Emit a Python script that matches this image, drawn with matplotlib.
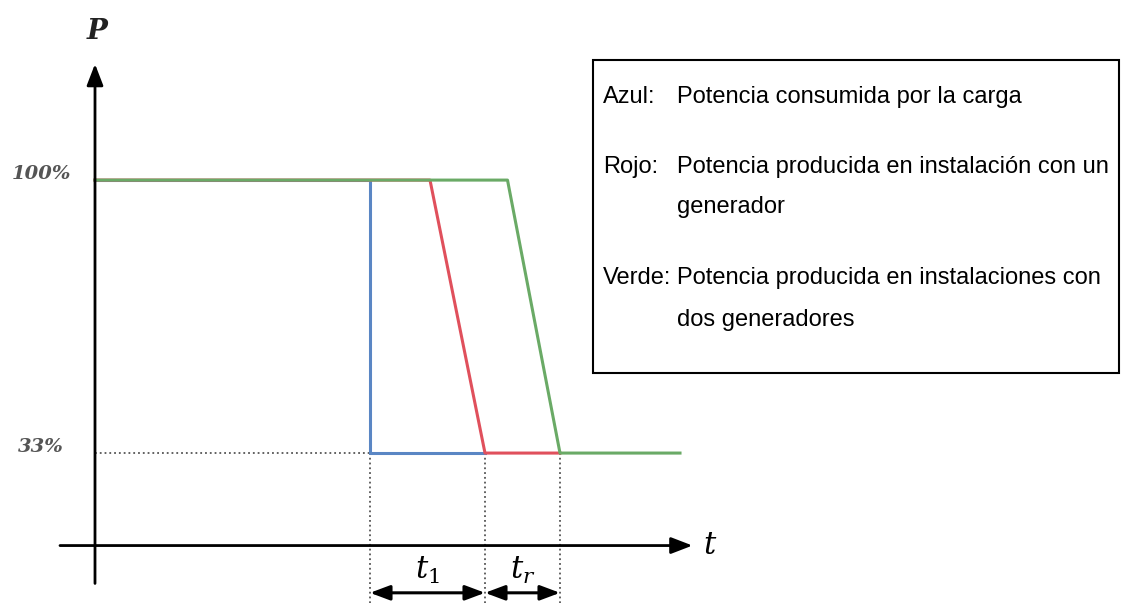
import matplotlib.pyplot as plt
from matplotlib.patches import Rectangle

# potencia (%) frente al tiempo para cada caso
t_azul = [0, 11.0, 11.0, 15.6]
p_azul = [100, 100, 33, 33]
t_rojo = [0, 13.4, 15.6, 18.6]
p_rojo = [100, 100, 33, 33]
t_verde = [0, 16.5, 18.6, 23.4]
p_verde = [100, 100, 33, 33]

niveles = [100, 33]
etiquetas_niveles = ['100%', '33%']
t_marcas = [11.0, 15.6, 18.6]
etiquetas_t = ['$t_1$', '$t_r$']

leyenda = [
    ('Azul:', ['Potencia consumida por la carga']),
    ('Rojo:', ['Potencia producida en instalación con un', 'generador']),
    ('Verde:', ['Potencia producida en instalaciones con', 'dos generadores']),
]

plt.rcParams['mathtext.fontset'] = 'dejavuserif'

fig = plt.figure(figsize=(11.21, 6.03), dpi=100)
ax = fig.add_axes([0, 0, 1, 1])
ax.set_xlim(-3.8, 41.04)
ax.set_ylim(-3.8, 144.2)
ax.axis('off')

# ejes con flecha
flecha = '-|>,head_length=1.3,head_width=0.5'
ax.annotate('', xy=(23.9, 10.3), xytext=(-1.4, 10.3),
            arrowprops=dict(arrowstyle=flecha, color='black', lw=2, shrinkA=0, shrinkB=0))
ax.annotate('', xy=(0, 128.5), xytext=(0, 1.0),
            arrowprops=dict(arrowstyle=flecha, color='black', lw=2, shrinkA=0, shrinkB=0))
ax.text(24.3, 10.3, '$t$', fontsize=22, va='center', ha='left')
ax.text(0.1, 136.5, 'P', fontsize=20, family='DejaVu Serif', style='italic',
        weight='bold', ha='center', va='center', color='#222222')

# niveles de potencia
for nivel, etiqueta in zip(niveles, etiquetas_niveles):
    ax.text(-2.15, nivel + 1.5, etiqueta, fontsize=14, family='DejaVu Serif', style='italic',
            weight='bold', ha='center', va='center', color='#555555')
ax.plot([0, t_marcas[0]], [33, 33], ls=':', color='#555555', lw=1.3)

# lineas verticales punteadas
for tm in t_marcas:
    ax.plot([tm, tm], [33, -3.8], ls=':', color='#555555', lw=1.3, clip_on=False)

# curvas de potencia
ax.plot(t_azul, p_azul, color='#5a86c4', lw=2.2)
ax.plot(t_rojo, p_rojo, color='#e0505c', lw=2.2)
ax.plot(t_verde, p_verde, color='#6aaa66', lw=2.2)

# intervalos t1 y tr
for i in range(2):
    ax.annotate('', xy=(t_marcas[i], -1.3), xytext=(t_marcas[i + 1], -1.3),
                arrowprops=dict(arrowstyle='<|-|>,head_length=1.2,head_width=0.45',
                                color='black', lw=2.2, shrinkA=0, shrinkB=0))
    xm = (t_marcas[i] + t_marcas[i + 1]) / 2
    ax.text(xm, 4.2, etiquetas_t[i], fontsize=22, ha='center', va='center')

# recuadro de leyenda
fig.patches.append(Rectangle((593 / 1121, 1 - 373 / 603), (1119 - 593) / 1121, (373 - 60) / 603,
                             transform=fig.transFigure, fill=False, edgecolor='black', lw=1.5))
bases = [[103], [173, 213], [284, 326]]
for (clave, lineas), ys in zip(leyenda, bases):
    fig.text(603 / 1121, 1 - ys[0] / 603, clave, fontsize=17, family='Liberation Sans', va='baseline')
    for linea, y in zip(lineas, ys):
        fig.text(677 / 1121, 1 - y / 603, linea, fontsize=17, family='Liberation Sans', va='baseline')

fig.savefig('out.png', dpi=100)
